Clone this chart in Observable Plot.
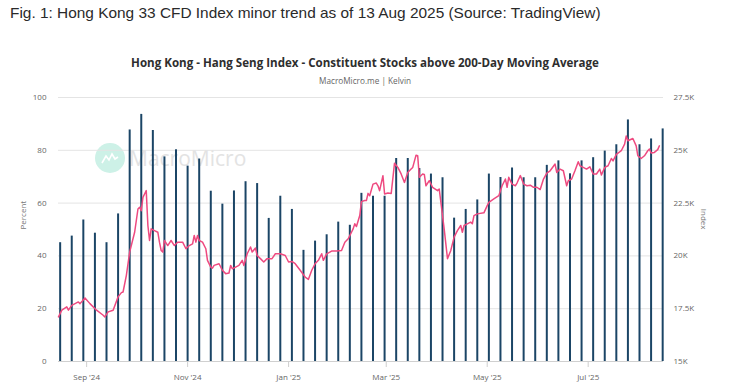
<!DOCTYPE html>
<html>
<head>
<meta charset="utf-8">
<script src="https://cdn.jsdelivr.net/npm/d3@7"></script>
<script src="https://cdn.jsdelivr.net/npm/@observablehq/plot@0.6"></script>
<style>
html, body { margin: 0; padding: 0; background: #fff; }
#page { position: relative; width: 739px; height: 389px; overflow: hidden; font-family: "Open Sans", sans-serif; }
#caption { position: absolute; left: 10px; top: 3px; font-family: "Liberation Sans", Arial, sans-serif; font-size: 15px; line-height: 20px; color: #2a2a2a; white-space: nowrap; }
#title { position: absolute; left: 0; width: 730px; top: 55px; text-align: center; font-family: "Open Sans", sans-serif; font-weight: 700; font-size: 11px; line-height: 16px; color: #2e2e2e; white-space: nowrap; }
#subtitle { position: absolute; left: 0; width: 730px; top: 75px; text-align: center; font-family: "Open Sans", sans-serif; font-size: 8px; line-height: 12px; color: #666; white-space: nowrap; }
#wm { position: absolute; left: 95px; top: 142px; height: 32px; display: flex; align-items: center; z-index: 0; }
#wm .logo { width: 30px; height: 30px; border-radius: 50%; background: #cdf1e7; display: flex; align-items: center; justify-content: center; }
#wm .txt { margin-left: 4px; font-family: "Open Sans", sans-serif; font-size: 21px; color: #e3e3e3; }
#chart { position: absolute; left: 0; top: 88px; z-index: 1; }
</style>
</head>
<body>
<div id="page">
  <div id="caption"><span>Fig. 1: Hong Kong 33 CFD Index minor trend as of 13 Aug 2025 (Source: TradingView)</span></div>
  <div id="title"><span>Hong Kong - Hang Seng Index - Constituent Stocks above 200-Day Moving Average</span></div>
  <div id="subtitle"><span>MacroMicro.me | Kelvin</span></div>
  <div id="wm"><div class="logo"><svg width="18" height="12" viewBox="0 0 18 12"><polyline points="1,11 5,4 8,8 11,2 14,7 17,5" fill="none" stroke="#fff" stroke-width="1.6"/></svg></div><div class="txt">MacroMicro</div></div>
  <div id="chart"></div>
</div>
<script>
// Weekly bars: % of constituents above 200-day MA
const barDates = [
  "2024-08-16","2024-08-23","2024-08-30","2024-09-06","2024-09-13","2024-09-20","2024-09-27",
  "2024-10-04","2024-10-11","2024-10-18","2024-10-25","2024-11-01","2024-11-08","2024-11-15",
  "2024-11-22","2024-11-29","2024-12-06","2024-12-13","2024-12-20","2024-12-27","2025-01-03",
  "2025-01-10","2025-01-17","2025-01-24","2025-01-31","2025-02-07","2025-02-14","2025-02-21",
  "2025-02-28","2025-03-07","2025-03-14","2025-03-21","2025-03-28","2025-04-04","2025-04-11",
  "2025-04-18","2025-04-25","2025-05-02","2025-05-09","2025-05-16","2025-05-23","2025-05-30",
  "2025-06-06","2025-06-13","2025-06-20","2025-06-27","2025-07-04","2025-07-11","2025-07-18",
  "2025-07-25","2025-08-01","2025-08-08","2025-08-15"
];
const barValues = [
  45, 47.5, 53.6, 48.6, 45, 55.9, 87.7,
  93.6, 87.5, 77.5, 80.2, 74, 76.7, 64.5,
  59.6, 64.6, 68.1, 67.4, 54.2, 62.6, 57.6,
  42.1, 45.6, 48, 52.8, 51.6, 63.7, 62.6,
  62.6, 76.9, 76.9, 73.1, 71, 69.6, 54.3,
  57.6, 61.2, 71, 69.7, 73.3, 69.6, 69.6,
  74.3, 76, 71.1, 76, 77.2, 79.7, 82.1,
  91.5, 82.1, 84.3, 88.1
];

// Hang Seng Index level (right axis)
const lineDates = [
  "2024-08-15","2024-08-17","2024-08-20","2024-08-21","2024-08-23","2024-08-27","2024-08-28","2024-08-31",
  "2024-09-03","2024-09-07","2024-09-11","2024-09-12","2024-09-14","2024-09-17","2024-09-20","2024-09-22",
  "2024-09-23","2024-09-25","2024-09-27","2024-09-29","2024-09-30","2024-10-02","2024-10-03","2024-10-04",
  "2024-10-05","2024-10-06","2024-10-07","2024-10-08","2024-10-09","2024-10-10","2024-10-12","2024-10-14",
  "2024-10-15","2024-10-16","2024-10-17","2024-10-18","2024-10-20","2024-10-22","2024-10-24","2024-10-26",
  "2024-10-29","2024-10-31","2024-11-02","2024-11-04","2024-11-05","2024-11-06","2024-11-07","2024-11-08",
  "2024-11-10","2024-11-12","2024-11-13","2024-11-15","2024-11-16","2024-11-17","2024-11-20","2024-11-22",
  "2024-11-24","2024-11-26","2024-11-27","2024-11-28","2024-11-30","2024-12-02","2024-12-04","2024-12-05",
  "2024-12-07","2024-12-09","2024-12-10","2024-12-12","2024-12-13","2024-12-15","2024-12-17","2024-12-19",
  "2024-12-22","2024-12-24","2024-12-27","2024-12-30","2025-01-01","2025-01-03","2025-01-05","2025-01-08",
  "2025-01-11","2025-01-13","2025-01-15","2025-01-17","2025-01-19","2025-01-21","2025-01-22","2025-01-24",
  "2025-01-27","2025-01-30","2025-02-02","2025-02-04","2025-02-06","2025-02-08","2025-02-09","2025-02-10",
  "2025-02-11","2025-02-13","2025-02-14","2025-02-16","2025-02-17","2025-02-18","2025-02-19","2025-02-21",
  "2025-02-23","2025-02-24","2025-02-25","2025-02-27","2025-02-28","2025-03-02","2025-03-04","2025-03-06",
  "2025-03-08","2025-03-10","2025-03-12","2025-03-14","2025-03-16","2025-03-17","2025-03-19","2025-03-20",
  "2025-03-21","2025-03-23","2025-03-24","2025-03-25","2025-03-27","2025-03-29","2025-04-01","2025-04-02",
  "2025-04-03","2025-04-05","2025-04-07","2025-04-09","2025-04-11","2025-04-13","2025-04-15","2025-04-16",
  "2025-04-17","2025-04-19","2025-04-21","2025-04-22","2025-04-23","2025-04-25","2025-04-29","2025-05-01",
  "2025-05-02","2025-05-05","2025-05-08","2025-05-10","2025-05-12","2025-05-13","2025-05-14","2025-05-16",
  "2025-05-18","2025-05-19","2025-05-21","2025-05-23","2025-05-25","2025-05-27","2025-05-29","2025-05-31",
  "2025-06-02","2025-06-04","2025-06-06","2025-06-08","2025-06-11","2025-06-12","2025-06-14","2025-06-16",
  "2025-06-18","2025-06-19","2025-06-21","2025-06-23","2025-06-25","2025-06-26","2025-06-28","2025-06-30",
  "2025-07-02","2025-07-04","2025-07-06","2025-07-08","2025-07-09","2025-07-11","2025-07-13","2025-07-15",
  "2025-07-16","2025-07-18","2025-07-21","2025-07-23","2025-07-24","2025-07-25","2025-07-28","2025-07-30",
  "2025-07-31","2025-08-02","2025-08-04","2025-08-06","2025-08-07","2025-08-08","2025-08-10","2025-08-12",
  "2025-08-13"
];
const lineValues = [
  17110, 17430, 17590, 17430, 17660, 17820, 17740, 18010,
  17740, 17430, 17190, 17110, 17350, 17430, 18060, 18260,
  18290, 19080, 20180, 20810, 21120, 22220, 22300, 22140,
  22770, 22930, 23090, 21440, 20730, 21280, 21200, 21120,
  20650, 20260, 20180, 20730, 20490, 20730, 20490, 20650,
  20650, 20340, 20490, 20570, 20970, 20650, 20970, 20730,
  20650, 20340, 19790, 19470, 19420, 19550, 19630, 19320,
  19160, 19190, 19550, 19390, 19470, 19550, 19790, 19550,
  20100, 20420, 20180, 20370, 20020, 19870, 19710, 19870,
  19870, 20100, 20100, 20020, 19710, 19740, 19630, 19320,
  19000, 18890, 19320, 19630, 19790, 20100, 19790, 20100,
  20230, 20230, 20260, 20650, 20810, 21120, 21280, 21520,
  21390, 21910, 22570, 22620, 22620, 22960, 22850, 23400,
  23450, 23320, 23090, 23800, 22930, 22980, 22960, 24390,
  24190, 23880, 23480, 23950, 24110, 24190, 24770, 24740,
  23720, 23880, 23860, 23320, 23560, 23250, 23090, 23170,
  22540, 21280, 19870, 20260, 20890, 21200, 21440, 21120,
  21440, 21520, 21600, 21520, 21910, 21990, 22040, 22380,
  22540, 22700, 22850, 23320, 23640, 23250, 23720, 23400,
  23320, 23450, 23800, 23400, 23320, 23350, 23250, 23250,
  23140, 23640, 23920, 24030, 24350, 23950, 24110, 24030,
  23320, 23560, 23640, 24030, 24460, 24270, 24190, 24110,
  24220, 23880, 23880, 24110, 23830, 24190, 24270, 24610,
  24500, 24810, 24980, 25290, 25680, 25450, 25560, 25210,
  24740, 24610, 24740, 24980, 25060, 24870, 24900, 25030,
  25210
];

const pctTicks = [0, 20, 40, 60, 80, 100];
const indexTicks = [15000, 17500, 20000, 22500, 25000, 27500];
const indexTickLabels = ["15K", "17.5K", "20K", "22.5K", "25K", "27.5K"];
const monthLabelFormat = "%b '%y";

const parse = d3.utcParse("%Y-%m-%d");
const idxMin = indexTicks[0], idxMax = indexTicks[indexTicks.length - 1];
const toPct = v => (v - idxMin) / (idxMax - idxMin) * 100;
const bars = barDates.map((d, i) => ({date: parse(d), pct: barValues[i]}));
const line = lineDates.map((d, i) => ({date: parse(d), pct: toPct(lineValues[i])}));
const rightTickPos = indexTicks.map(toPct);

const chart = Plot.plot({
  width: 739,
  height: 301,
  marginTop: 9,
  marginBottom: 28,
  marginLeft: 58,
  marginRight: 76,
  style: {fontFamily: "Open Sans, sans-serif", fontSize: "8px", color: "#666", background: "transparent", overflow: "visible"},
  x: {type: "utc", domain: [parse("2024-08-15"), new Date(Date.UTC(2025, 7, 15, 12))]},
  y: {domain: [0, 100]},
  marks: [
    Plot.gridY(pctTicks.slice(1), {stroke: "#e4e4e4", strokeOpacity: 1}),
    Plot.ruleY([0], {stroke: "#d0d0d0"}),
    Plot.axisY(pctTicks, {anchor: "left", tickSize: 0, tickPadding: 12, label: null}),
    Plot.axisY(rightTickPos, {anchor: "right", tickSize: 0, tickPadding: 10, label: null,
      tickFormat: d => indexTickLabels[rightTickPos.indexOf(d)]}),
    Plot.axisX({ticks: d3.utcMonth.every(2), tickFormat: d3.utcFormat(monthLabelFormat),
      tickSize: 6, tickPadding: 7, stroke: "#cfcfcf", label: null}),
    Plot.ruleX(bars, {x: "date", y1: 0, y2: "pct", stroke: "#1b4566", strokeWidth: 2}),
    Plot.line(line, {x: "date", y: "pct", stroke: "#ee4a80", strokeWidth: 1.5}),
    Plot.text(["Percent"], {text: d => d, frameAnchor: "left", dx: -35, rotate: -90, fill: "#777"}),
    Plot.text(["Index"], {text: d => d, frameAnchor: "right", dx: 40, rotate: 90, fill: "#777"})
  ]
});
document.getElementById("chart").appendChild(chart);

function fit(id, targetWidth) {
  const el = document.getElementById(id);
  const span = el.querySelector("span");
  const fs = parseFloat(getComputedStyle(el).fontSize);
  const w = span.getBoundingClientRect().width;
  if (w > 0) el.style.fontSize = (fs * targetWidth / w).toFixed(2) + "px";
}
function fitAll() {
  fit("caption", 590);
  fit("title", 468);
  fit("subtitle", 92);
}
fitAll();
if (document.fonts && document.fonts.ready) document.fonts.ready.then(fitAll);
</script>
</body>
</html>
